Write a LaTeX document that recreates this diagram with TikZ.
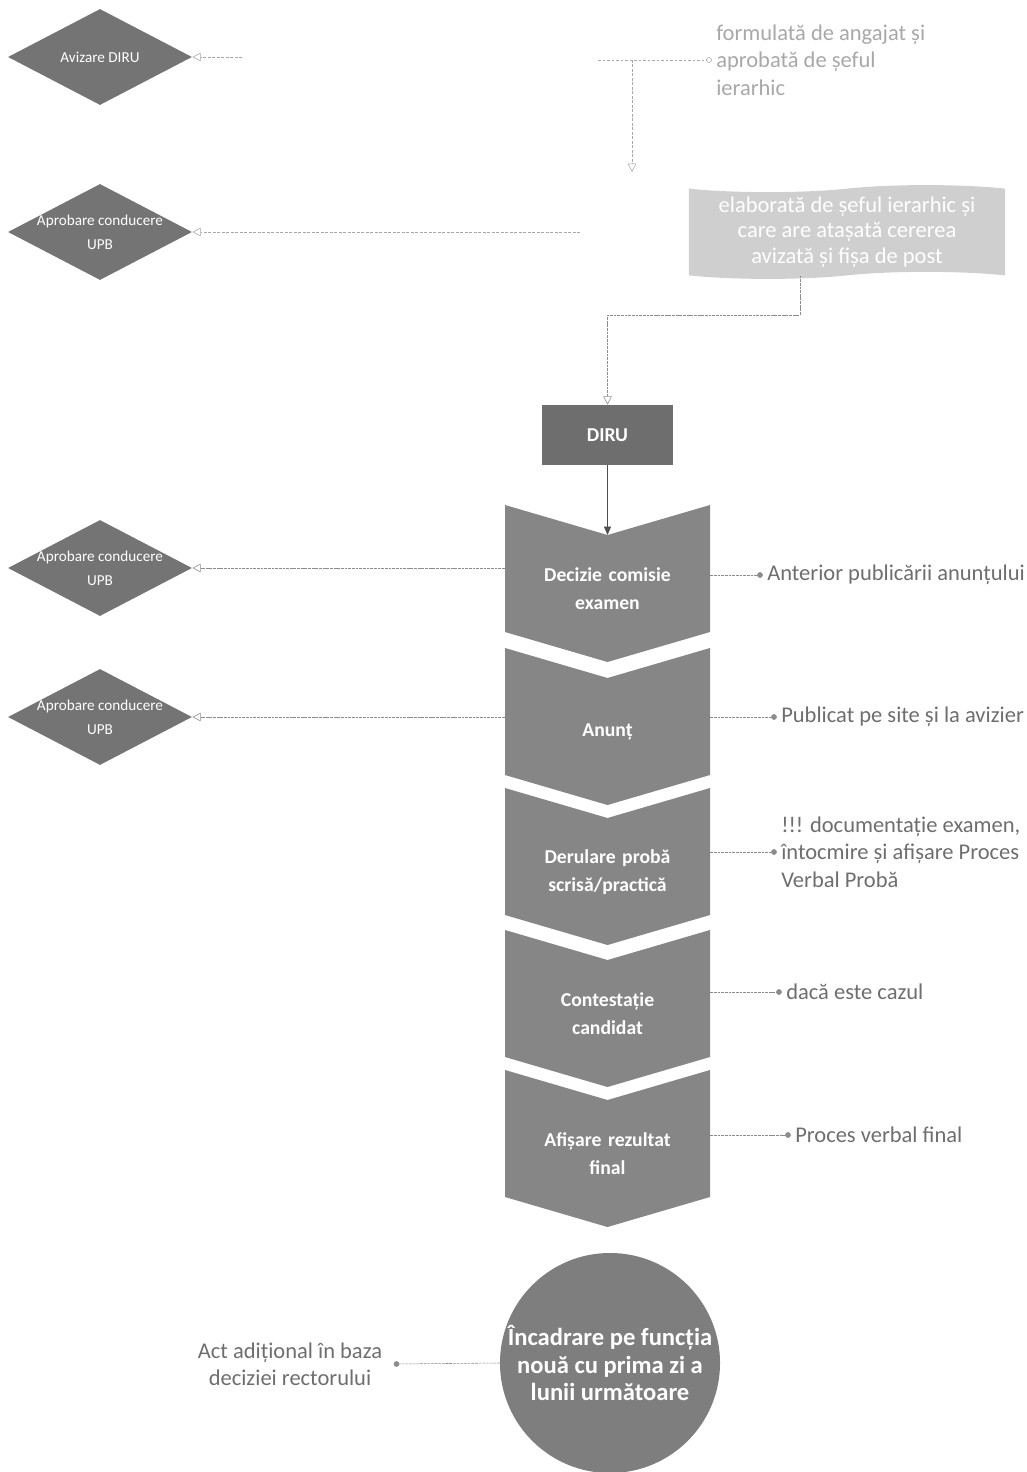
\documentclass[tikz,border=0pt]{standalone}
\usepackage{fontspec}
\setmainfont{Carlito}
\usepackage{tikz}
\usetikzlibrary{arrows.meta,positioning,shapes.geometric,shapes.symbols,calc}
\definecolor{bk80}{HTML}{505050}
\definecolor{bk60}{HTML}{6E6E6E}
\definecolor{bk45}{HTML}{8C8C8C}
\definecolor{bk35}{HTML}{A8A8A8}
\definecolor{chevgrey}{HTML}{868686}
\definecolor{diagrey}{HTML}{747474}
\definecolor{docgrey}{HTML}{CFCFCF}
\tikzset{
  approvebox/.style={
    diamond, aspect=2, fill=diagrey, text=white,
    minimum width=4.6cm, minimum height=2.4cm,
    inner xsep=-0.4cm, inner ysep=0pt, align=center,
    font=\fontsize{10.8}{17}\selectfont
  },
  chevfill/.style={fill=chevgrey},
  chevtext/.style={
    text=white, align=center, text width=5.125cm, inner sep=0pt,
    font=\bfseries\fontsize{14}{20}\selectfont
  },
  hrbox/.style={
    rectangle, fill=bk60, text=white,
    minimum width=3.25cm, minimum height=1.5cm,
    font=\bfseries\fontsize{14}{16}\selectfont
  },
  docbox/.style={
    tape, tape bend top=in and out, tape bend bottom=in and out,
    tape bend height=5pt, fill=docgrey, text=white,
    minimum width=7.9cm, minimum height=2.3cm, align=center,
    font=\fontsize{16}{18}\selectfont
  },
  endbox/.style={
    circle, fill=bk45!90!black, text=white, minimum size=5.5cm,
    align=center, inner sep=0pt,
    font=\bfseries\fontsize{17.5}{19.5}\selectfont
  },
  note/.style={
    text=bk60, align=left, inner sep=0pt,
    font=\fontsize{16}{19.5}\selectfont
  },
  notearrow/.style={
    -{Circle[length=4pt]}, color=bk45, dash pattern=on 2pt off 0.6pt
  },
  toapprove/.style={
    -{Triangle[open, length=6pt, width=6pt]}, color=bk45,
    dash pattern=on 2pt off 0.6pt
  },
  fadeline/.style={color=bk35, dash pattern=on 2pt off 1.2pt},
  mainarrow/.style={-{Triangle[length=6pt, width=5pt]}, color=bk80, semithick},
}
\begin{document}
\begin{tikzpicture}[x=0.025cm, y=-0.025cm]
  \useasboundingbox (0,0) rectangle (1026,1472);

  % request, DIRU approval
  \node[approvebox] (d1) at (100,57) {Avizare DIRU};
  \node[note, text=bk35, anchor=west] (req) at (716,60)
    {formulată de angajat și\\aprobată de șeful\\ierarhic};
  \coordinate (reqsrc) at (598,60);
  \coordinate (reqjn) at (632,60);
  \coordinate (reqend) at (632,172);
  \coordinate (avzsrc) at (242,57);
  \draw[fadeline, -{Circle[open, length=4pt]}] (reqsrc) -- ([xshift=-3pt]req.west);
  \draw[fadeline, -{Triangle[open, length=6pt, width=6pt]}] (reqjn) -- (reqend);
  \draw[fadeline, -{Triangle[open, length=6pt, width=6pt]}] (avzsrc) -- (d1.east);

  % report, UPB approval
  \node[approvebox] (d2) at (100,232) {Aprobare conducere\\UPB};
  \node[docbox] (doc) at (847,232)
    {elaborată de șeful ierarhic și\\care are atașată cererea\\avizată și fișa de post};
  \coordinate (docsrc) at (580,232);
  \draw[fadeline, -{Triangle[open, length=6pt, width=6pt]}] (docsrc) -- (d2.east);

  \node[hrbox] (diru) at (607.5,435) {DIRU};
  \coordinate (docjn) at (800,315);
  \draw[toapprove] (docjn |- doc.south) -- (docjn) -| (diru.north);

  % exam steps
  \foreach \n/\y/\t in {ch1/505/{Decizie comisie\\examen},
                        ch2/648/{Anunț},
                        ch3/788/{Derulare probă\\scrisă/practică},
                        ch4/930/{Contestație\\candidat},
                        ch5/1070/{Afișare rezultat\\final}} {
    \fill[chevfill] (505,\y) -- (607.5,\y+30) -- (710,\y) -- (710,\y+127)
      -- (607.5,\y+157) -- (505,\y+127) -- cycle;
    \node[chevtext] (\n) at (607.5,\y+84) {\t};
    \coordinate (\n-top) at (607.5,\y+30);
  }
  \draw[mainarrow] (diru.south) -- (ch1-top);

  \node[approvebox] (d3) at (100,568) {Aprobare conducere\\UPB};
  \node[approvebox] (d4) at (100,717) {Aprobare conducere\\UPB};
  \draw[toapprove] (ch1.west |- d3.east) -- (d3.east);
  \draw[toapprove] (ch2.west |- d4.east) -- (d4.east);

  % side notes
  \node[note, anchor=west] (n1) at (767,575) {Anterior publicării anunțului};
  \node[note, anchor=west] (n2) at (781,717) {Publicat pe site și la avizier};
  \node[note, anchor=west] (n3) at (781,852)
    {!!! documentație examen,\\întocmire și afișare Proces\\Verbal Probă};
  \node[note, anchor=west] (n4) at (786,992) {dacă este cazul};
  \node[note, anchor=west] (n5) at (795,1135) {Proces verbal final};
  \foreach \c/\m in {ch1/n1,ch2/n2,ch3/n3,ch4/n4,ch5/n5}
    \draw[notearrow] (\c.east |- \m.west) -- ([xshift=-3pt]\m.west);

  % hiring
  \node[endbox] (inc) at (610,1363)
    {Încadrare pe funcția\\nouă cu prima zi a\\lunii următoare};
  \node[note, align=center] (act) at (290,1364)
    {Act adițional în baza\\deciziei rectorului};
  \draw[notearrow] (inc.west) -- ([xshift=8pt]act.east);
\end{tikzpicture}
\end{document}
